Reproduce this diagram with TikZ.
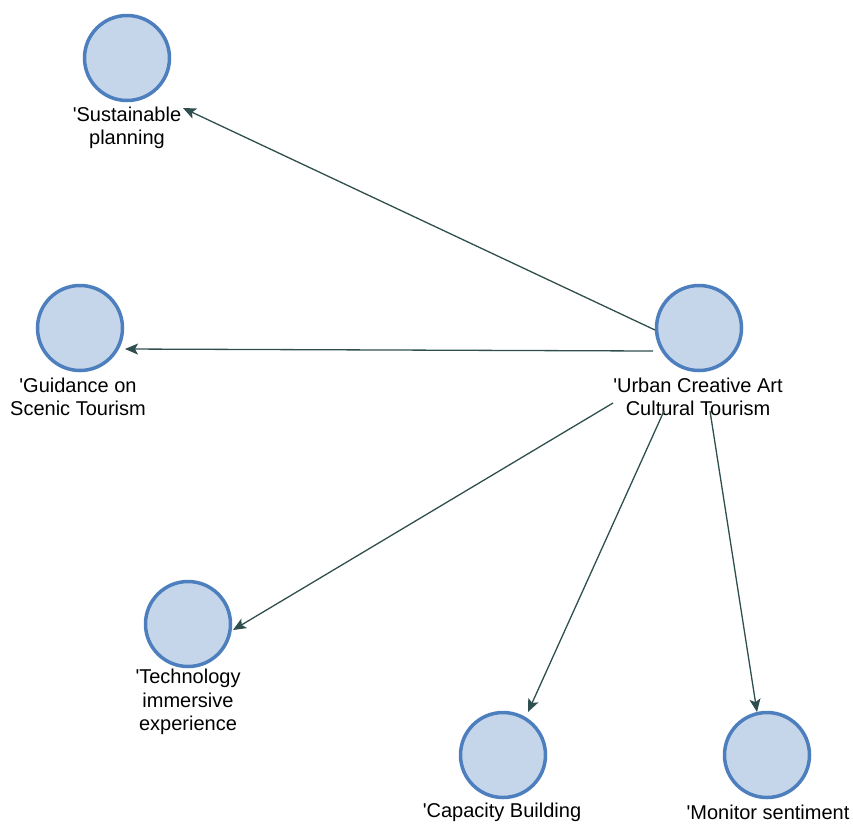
\documentclass[tikz,border=0pt]{standalone}
\usepackage{fontspec}
\setmainfont{Liberation Sans}
\usetikzlibrary{arrows.meta}
\definecolor{nodefill}{HTML}{C6D6EA}
\definecolor{nodeedge}{HTML}{4D7FBE}
\definecolor{edgecol}{HTML}{2F4F4F}
\newcommand{\q}{\textquotesingle}
\begin{document}
\begin{tikzpicture}[x=1pt,y=-1pt,
  topic/.style={circle,draw=nodeedge,fill=nodefill,line width=3.5pt,minimum size=85pt,inner sep=0pt},
  lbl/.style={align=center,inner sep=0pt,font=\fontsize{20}{23.5}\selectfont},
  arr/.style={draw=edgecol,line width=1.3pt,-{Stealth[length=13pt,width=11pt,inset=3pt]}}]
\useasboundingbox (0,0) rectangle (853,823);
% nodes
\node[topic] (sus) at (127,58) {};
\node[lbl] (susl) at (127,128) {\q Sustainable\\planning};
\node[topic] (gui) at (80,328) {};
\node[lbl] (guil) at (78,397) {\q Guidance on\\Scenic Tourism};
\node[topic] (urb) at (699,328) {};
\node[lbl] (urbl) at (698,397) {\q Urban Creative Art\\Cultural Tourism};
\node[topic] (tec) at (188,624) {};
\node[lbl] (tecl) at (188,702) {\q Technology\\immersive\\experience};
\node[topic] (cap) at (503,755) {};
\node[lbl] (capl) at (502,812) {\q Capacity Building};
\node[topic] (mon) at (767,755) {};
\node[lbl] (monl) at (768,812) {\q Monitor sentiment};
% connector end points
\coordinate (s1) at (655,330); \coordinate (e1) at (183,108);
\coordinate (s2) at (653,351); \coordinate (e2) at (125,349);
\coordinate (s3) at (613,403); \coordinate (e3) at (233,630);
\coordinate (s4) at (664,411); \coordinate (e4) at (528,712);
\coordinate (s5) at (710,411); \coordinate (e5) at (757,712);
% connectors
\draw[arr] (s1) -- (e1);
\draw[arr] (s2) -- (e2);
\draw[arr] (s3) -- (e3);
\draw[arr] (s4) -- (e4);
\draw[arr] (s5) -- (e5);
\end{tikzpicture}
\end{document}
